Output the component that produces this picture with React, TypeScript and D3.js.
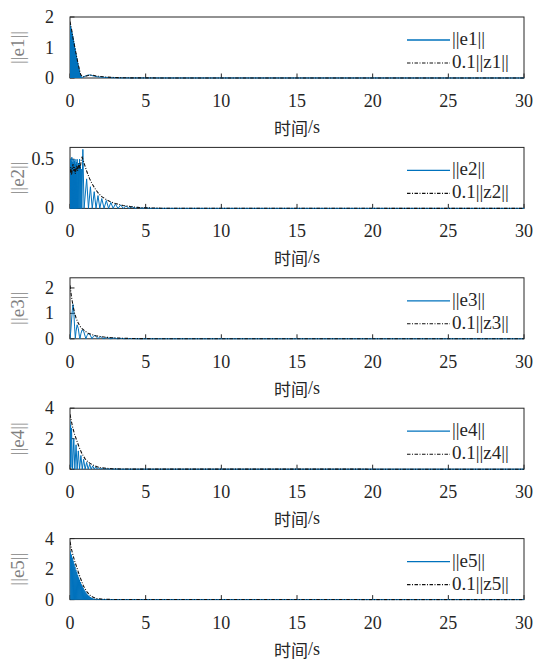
import React from 'react';
import * as d3 from 'd3';

type P = [number, number];

const xTicks = [0, 5, 10, 15, 20, 25, 30];

// ---- panel 1 ----
const e1: P[] = [[0,1.78],[0.015,0],[0.03,1.7],[0.045,0],[0.06,1.65],[0.075,0],[0.09,1.6],[0.105,0],[0.12,1.52],[0.135,0],[0.15,1.45],[0.165,0],[0.18,1.38],[0.195,0],[0.21,1.3],[0.225,0],[0.24,1.22],[0.255,0],[0.27,1.15],[0.285,0],[0.3,1.05],[0.315,0],[0.33,0.98],[0.345,0],[0.36,0.9],[0.375,0],[0.39,0.82],[0.405,0],[0.42,0.74],[0.435,0],[0.45,0.66],[0.465,0],[0.48,0.58],[0.495,0],[0.51,0.5],[0.525,0],[0.54,0.43],[0.555,0],[0.57,0.36],[0.585,0],[0.6,0.29],[0.615,0],[0.63,0.22],[0.645,0],[0.66,0.16],[0.675,0],[0.69,0.1],[0.705,0],[0.72,0.06],[0.76,0.01],[0.85,0.03],[1.0,0.06],[1.15,0.09],[1.3,0.1],[1.45,0.08],[1.6,0.06],[1.8,0.04],[2.0,0.03],[2.3,0.02],[2.7,0.01],[3.2,0.005],[4,0.002],[30,0]];
const z1: P[] = [[0,1.85],[0.1,1.6],[0.2,1.3],[0.3,1.05],[0.4,0.8],[0.5,0.55],[0.6,0.32],[0.7,0.12],[0.8,0.05],[0.9,0.04],[1.0,0.05],[1.2,0.08],[1.4,0.1],[1.6,0.08],[1.8,0.06],[2.0,0.05],[2.4,0.03],[3.0,0.015],[4,0.005],[6,0.002],[30,0]];

// ---- panel 2 ----
const e2: P[] = [[0,0.45],[0.015,0],[0.03,0.5],[0.045,0],[0.06,0.42],[0.075,0],[0.09,0.48],[0.105,0],[0.12,0.52],[0.135,0],[0.15,0.4],[0.165,0],[0.18,0.47],[0.195,0],[0.21,0.5],[0.225,0],[0.24,0.44],[0.255,0],[0.27,0.36],[0.285,0],[0.3,0.48],[0.315,0],[0.33,0.5],[0.345,0],[0.36,0.45],[0.375,0],[0.39,0.38],[0.405,0],[0.42,0.47],[0.44,0],[0.47,0.5],[0.49,0],[0.52,0.42],[0.545,0],[0.57,0.46],[0.6,0],[0.63,0.5],[0.66,0],[0.69,0.44],[0.72,0],[0.75,0.4],[0.78,0],[0.85,0.6],[0.93,0],[1.1,0.3],[1.22,0],[1.35,0.22],[1.47,0],[1.6,0.17],[1.72,0],[1.85,0.13],[1.97,0],[2.1,0.1],[2.25,0],[2.4,0.08],[2.55,0],[2.7,0.06],[2.85,0],[3.0,0.045],[3.17,0],[3.35,0.035],[3.52,0],[3.7,0.025],[3.9,0],[4.1,0.018],[4.3,0],[4.5,0.012],[4.75,0],[5,0.008],[5.3,0],[30,0]];
const z2: P[] = [[0,0.36],[0.05,0.42],[0.1,0.34],[0.15,0.4],[0.2,0.45],[0.25,0.38],[0.3,0.42],[0.35,0.35],[0.4,0.4],[0.45,0.44],[0.5,0.38],[0.55,0.42],[0.6,0.46],[0.65,0.4],[0.7,0.44],[0.75,0.5],[0.8,0.52],[0.85,0.5],[0.95,0.45],[1.1,0.38],[1.3,0.3],[1.5,0.24],[1.7,0.19],[1.9,0.15],[2.1,0.12],[2.4,0.09],[2.7,0.065],[3,0.05],[3.5,0.03],[4,0.018],[4.5,0.01],[5,0.006],[6,0.002],[30,0]];

// ---- panel 3 ----
const e3: P[] = [[0,0],[0.05,0.3],[0.1,0.7],[0.15,1.1],[0.2,1.35],[0.25,1.1],[0.3,0.5],[0.35,0.02],[0.4,0.3],[0.47,0.55],[0.55,0.4],[0.62,0.1],[0.66,0],[0.72,0.2],[0.8,0.35],[0.9,0.3],[1.0,0.1],[1.05,0],[1.12,0.12],[1.2,0.2],[1.3,0.18],[1.4,0.07],[1.45,0],[1.55,0.1],[1.65,0.13],[1.75,0.08],[1.85,0],[1.95,0.07],[2.05,0.08],[2.15,0.03],[2.25,0],[2.4,0.05],[2.55,0.03],[2.7,0],[2.85,0.03],[3.0,0.02],[3.15,0],[3.4,0.015],[3.6,0],[4,0.008],[4.3,0],[30,0]];
const z3: P[] = [[0,2.1],[0.1,1.65],[0.2,1.3],[0.3,1.02],[0.4,0.82],[0.5,0.67],[0.6,0.56],[0.7,0.47],[0.8,0.4],[1.0,0.3],[1.2,0.22],[1.4,0.17],[1.7,0.12],[2.0,0.09],[2.4,0.06],[2.8,0.04],[3.3,0.025],[4,0.012],[5,0.005],[30,0]];

// ---- panel 4 ----
const e4: P[] = [[0,3.2],[0.02,0.2],[0.04,2.9],[0.06,0.1],[0.1,2.7],[0.17,0],[0.25,2.0],[0.32,0],[0.4,1.6],[0.47,0],[0.55,1.2],[0.63,0],[0.72,0.9],[0.81,0],[0.9,0.65],[1.0,0],[1.1,0.45],[1.2,0],[1.3,0.32],[1.4,0],[1.5,0.22],[1.6,0],[1.7,0.15],[1.8,0],[1.9,0.1],[2.02,0],[2.15,0.07],[2.28,0],[2.4,0.04],[2.55,0],[2.7,0.03],[2.85,0],[3.0,0.02],[3.2,0],[30,0]];
const z4: P[] = [[0,3.6],[0.1,3.1],[0.2,2.65],[0.3,2.3],[0.44,1.9],[0.6,1.45],[0.8,1.0],[1.0,0.68],[1.1,0.56],[1.3,0.4],[1.5,0.28],[1.75,0.17],[2.0,0.1],[2.4,0.06],[2.8,0.03],[3.5,0.012],[4.5,0.004],[30,0]];

// ---- panel 5 ----
const e5: P[] = [[0,3.2],[0.03,3.1],[0.06,0],[0.09,2.95],[0.12,0],[0.15,2.75],[0.18,0],[0.21,2.55],[0.24,0],[0.27,2.35],[0.3,0],[0.33,2.15],[0.36,0],[0.39,1.95],[0.42,0],[0.45,1.8],[0.48,0],[0.51,1.62],[0.54,0],[0.57,1.45],[0.6,0],[0.63,1.3],[0.66,0],[0.69,1.15],[0.72,0],[0.75,1.0],[0.78,0],[0.81,0.88],[0.84,0],[0.87,0.76],[0.9,0],[0.93,0.65],[0.96,0],[0.99,0.55],[1.02,0],[1.05,0.46],[1.08,0],[1.11,0.38],[1.14,0],[1.17,0.31],[1.2,0],[1.23,0.25],[1.26,0],[1.29,0.2],[1.32,0],[1.35,0.16],[1.38,0],[1.41,0.12],[1.44,0],[1.47,0.09],[1.5,0],[1.53,0.07],[1.57,0],[1.6,0.05],[1.65,0],[1.7,0.03],[1.75,0],[1.8,0.02],[1.9,0],[2.0,0.01],[2.1,0],[30,0]];
const z5: P[] = [[0,3.8],[0.1,3.3],[0.2,2.9],[0.3,2.55],[0.44,2.14],[0.6,1.65],[0.75,1.25],[0.88,0.9],[1.0,0.7],[1.15,0.47],[1.32,0.29],[1.5,0.17],[1.76,0.07],[2.1,0.03],[2.6,0.012],[3.5,0.004],[30,0]];

const eNames = ['||e1||', '||e2||', '||e3||', '||e4||', '||e5||'];
const zNames = ['0.1||z1||', '0.1||z2||', '0.1||z3||', '0.1||z4||', '0.1||z5||'];
const yMaxes = [2, 0.62, 2.4, 4, 4];
const yTickSets = [[0, 1, 2], [0, 0.5], [0, 1, 2], [0, 2, 4], [0, 2, 4]];
const eSeries = [e1, e2, e3, e4, e5];
const zSeries = [z1, z2, z3, z4, z5];
const xLabelCn = '时间';
const xLabelUnit = '/s';

const BLUE = '#0072BD';
const AX = '#262626';
const SERIF = '"Liberation Serif", "Times New Roman", Times, "DejaVu Serif", serif';
const CJK = '"Noto Sans CJK SC", sans-serif';
const DASH = '3.5 1.5 1 1.5';

export default function App() {
  const W = 535, H = 666;
  const left = 70, right = 524, top0 = 17, step = 130.4, ph = 61;
  const x = d3.scaleLinear().domain([0, 30]).range([left, right]);
  return (
    <svg width={W} height={H} style={{ position: 'absolute', left: 0, top: 0, background: '#fff' }}>
      <rect width={W} height={H} fill="#fff" />
      {eSeries.map((e, i) => {
        const top = top0 + i * step;
        const bottom = top + ph;
        const y = d3.scaleLinear().domain([0, yMaxes[i]]).range([bottom, top]);
        const line = d3.line<P>().x(d => x(d[0])).y(d => y(d[1]));
        const cid = `clip${i}`;
        return (
          <g key={i}>
            <defs>
              <clipPath id={cid}>
                <rect x={left} y={top - 1} width={right - left} height={ph + 2} />
              </clipPath>
            </defs>
            <rect x={left} y={top} width={right - left} height={ph} fill="none" stroke={AX} strokeWidth={1} />
            {xTicks.map(t => (
              <g key={t}>
                <line x1={x(t)} x2={x(t)} y1={bottom} y2={bottom - 4.5} stroke={AX} />
                <text x={x(t)} y={bottom + 23} textAnchor="middle" dominantBaseline="central" fontFamily={SERIF} fontSize={18} fill={AX}>{t}</text>
              </g>
            ))}
            {yTickSets[i].map(v => (
              <g key={v}>
                <line x1={left} x2={left + 4.5} y1={y(v)} y2={y(v)} stroke={AX} />
                <text x={54} y={y(v)} textAnchor="end" dominantBaseline="central" fontFamily={SERIF} fontSize={18} fill={AX}>{v}</text>
              </g>
            ))}
            <text transform={`translate(17,${(top + bottom) / 2}) rotate(-90)`} textAnchor="middle" dominantBaseline="central" fontFamily={SERIF} fontSize={19} fill="#7f7f7f">{eNames[i]}</text>
            <text x={(left + right) / 2} y={bottom + 49} textAnchor="middle" dominantBaseline="central" fontFamily={SERIF} fontSize={18} fill={AX}>
              <tspan fontFamily={CJK} fontSize={17}>{xLabelCn}</tspan>
              <tspan fontFamily={SERIF}>{xLabelUnit}</tspan>
            </text>
            <g clipPath={`url(#${cid})`}>
              <path d={line(e) || ''} fill="none" stroke={BLUE} strokeWidth={1} />
              <path d={line(zSeries[i]) || ''} fill="none" stroke="#111" strokeWidth={1.1} strokeDasharray={DASH} />
            </g>
            <line x1={407} x2={450} y1={top + 23} y2={top + 23} stroke={BLUE} strokeWidth={1.3} />
            <text x={452} y={top + 21.5} dominantBaseline="central" fontFamily={SERIF} fontSize={19} fill={AX}>{eNames[i]}</text>
            <line x1={407} x2={450} y1={top + 46} y2={top + 46} stroke="#111" strokeWidth={1.1} strokeDasharray={DASH} />
            <text x={452} y={top + 44.5} dominantBaseline="central" fontFamily={SERIF} fontSize={19} fill={AX}>{zNames[i]}</text>
          </g>
        );
      })}
    </svg>
  );
}
